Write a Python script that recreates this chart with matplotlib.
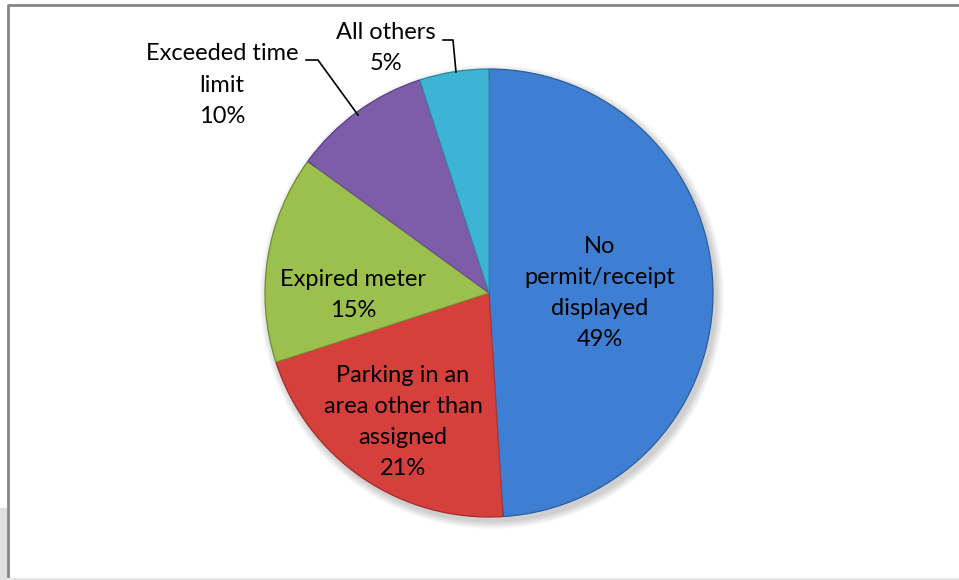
import matplotlib.pyplot as plt
from matplotlib.patches import Rectangle, Circle

# data
categories = ["No\npermit/receipt\ndisplayed", "Parking in an\narea other than\nassigned",
              "Expired meter", "Exceeded time\nlimit", "All others"]
shares = [49, 21, 15, 10, 5]
colors = ["#3E7FD3", "#D6403C", "#9BC04D", "#7D5CA9", "#3DB3D5"]
edges = ["#2B5E9E", "#9E2E2B", "#6F8C35", "#5A4080", "#2A86A0"]

W, H = 959, 580
fig = plt.figure(figsize=(W / 100, H / 100), dpi=100)
ax = fig.add_axes([0, 0, 1, 1])

cx, cy, r = 489, H - 293, 224

# soft shadow behind the pie
for i in range(8):
    ax.add_patch(Circle((cx + 3, cy - 4), r + 8 - i, color="black", alpha=0.025, lw=0, zorder=1))

wedges, _ = ax.pie(shares, colors=colors, startangle=90, counterclock=False,
                   center=(cx, cy), radius=r, frame=True,
                   wedgeprops=dict(linewidth=0.9, zorder=2))
for w, ec in zip(wedges, edges):
    w.set_edgecolor(ec)
    w.set_zorder(2)

# lighter inner bevel
ax.pie(shares, colors=colors, startangle=90, counterclock=False,
       center=(cx, cy), radius=r - 10, frame=True,
       wedgeprops=dict(linewidth=0, alpha=0.35, zorder=3))
ax.set_xlim(0, W)
ax.set_ylim(0, H)
ax.set_aspect("equal")
ax.axis("off")

font = dict(family="Lato", fontsize=17, color="black", ha="center", va="center",
            linespacing=1.6, zorder=5)

# label positions (pixels, from top)
label_xy = [(600, 293), (403, 422), (353, 295), (222, 85), (386, 48)]
for name, val, (x, y) in zip(categories, shares, label_xy):
    ax.text(x, H - y, f"{name}\n{val}%", **font)

# leader lines
ax.plot([306, 318, 358], [H - 60, H - 60, H - 115], color="black", lw=1.2, zorder=4)
ax.plot([443, 453, 456], [H - 40, H - 40, H - 72], color="black", lw=1.2, zorder=4)

# chart frame
ax.add_patch(Rectangle((0, 0), 7, 72, color="#E0E0E0", lw=0, zorder=0))
ax.plot([8, 8, W], [0, H - 5, H - 5], color="#858585", lw=2, zorder=6)
ax.plot([8, W], [1, 1], color="#E6E6E6", lw=1.5, zorder=6)

fig.savefig("out.png", dpi=100)
